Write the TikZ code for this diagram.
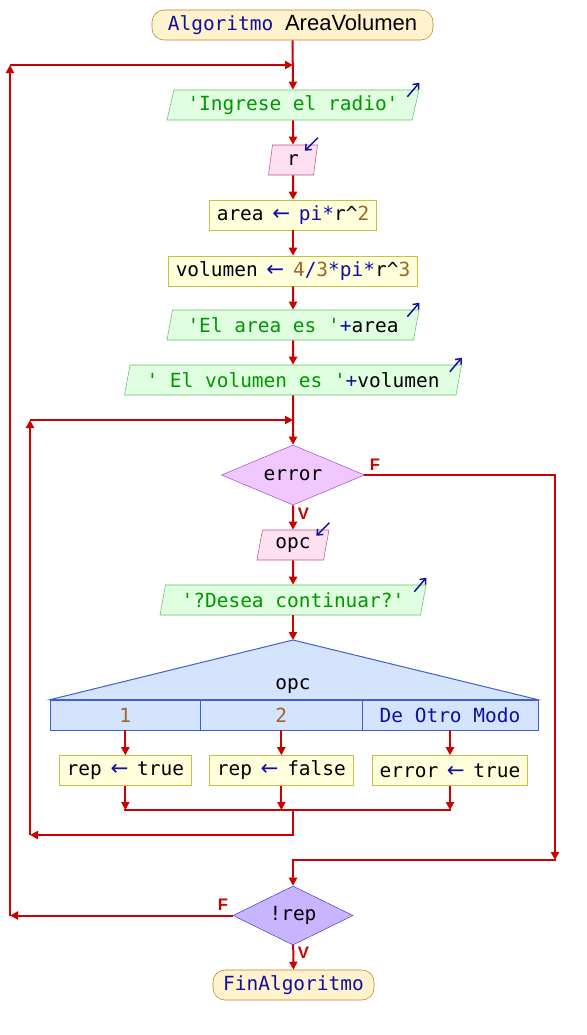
\documentclass[tikz,border=0pt]{standalone}
\usepackage{fontspec}
\usepackage{tikz}
\usetikzlibrary{arrows.meta,calc,shapes.geometric}
\newfontfamily\psmono{DejaVu Sans Mono}
\newfontfamily\pssans{Liberation Sans}
\newfontfamily\psarrowf{DejaVu Sans}
\newcommand{\pmono}{\psmono\fontsize{14.6pt}{17pt}\selectfont}
\definecolor{flwred}{RGB}{204,0,0}
\definecolor{kwblue}{RGB}{16,16,160}
\definecolor{nmbrown}{RGB}{160,100,40}
\definecolor{strgreen}{RGB}{0,150,0}
\definecolor{termbg}{RGB}{255,242,204}
\definecolor{termbd}{RGB}{192,128,32}
\definecolor{outbg}{RGB}{224,255,224}
\definecolor{outbd}{RGB}{100,190,100}
\definecolor{inbg}{RGB}{255,224,240}
\definecolor{inbd}{RGB}{192,80,144}
\definecolor{asgbg}{RGB}{255,255,220}
\definecolor{asgbd}{RGB}{200,192,64}
\definecolor{errbg}{RGB}{240,200,255}
\definecolor{errbd}{RGB}{160,80,220}
\definecolor{repbg}{RGB}{200,180,255}
\definecolor{repbd}{RGB}{80,60,220}
\definecolor{swbg}{RGB}{212,228,252}
\definecolor{swbd}{RGB}{64,96,208}
\newcommand{\kwd}[1]{\textcolor{kwblue}{#1}}
\newcommand{\numc}[1]{\textcolor{nmbrown}{#1}}
\newcommand{\strc}[1]{\textcolor{strgreen}{#1}}
\newcommand{\asgn}{\makebox[8.85pt][c]{\textcolor{kwblue}{\psarrowf\fontsize{16pt}{17pt}\selectfont ←}}}
\tikzset{
  flw/.style={-{Triangle[length=6pt,width=6pt]}, line width=1.5pt, flwred},
  ln/.style={line width=1.5pt, flwred, line cap=rect},
  term/.style={draw=termbd, fill=termbg, rounded corners=9pt, minimum height=22.5pt, inner sep=0pt, font=\pmono},
  outp/.style={trapezium, trapezium left angle=70, trapezium right angle=110, trapezium stretches body,
    draw=outbd, fill=outbg, minimum height=22.5pt, inner sep=0pt, font=\pmono},
  inp/.style={outp, draw=inbd, fill=inbg},
  asg/.style={draw=asgbd, fill=asgbg, minimum height=22.5pt, inner xsep=5.5pt, inner ysep=0pt, font=\pmono},
  dec/.style={diamond, shape aspect=2.4, draw=errbd, fill=errbg, minimum width=107.25pt, minimum height=45pt, inner sep=0pt, font=\pmono},
  cas/.style={draw=swbd, fill=swbg, minimum height=22.5pt, inner sep=0pt, font=\pmono},
  iomark/.style={-{Straight Barb[length=3.5pt,width=6pt]}, line width=1.1pt, kwblue},
  lbl/.style={font=\pssans\bfseries\fontsize{12.5pt}{13pt}\selectfont, flwred, inner sep=0pt},
}
\begin{document}
\begin{tikzpicture}[x=0.75pt,y=-0.75pt]
  \useasboundingbox (0,0) rectangle (586,1035);
  % --- main sequence ---
  \node[term, minimum width=210.75pt] (start) at (292.5,25)
    {\kwd{Algoritmo} {\pssans\fontsize{16.5pt}{18pt}\selectfont AreaVolumen}};
  \node[outp, minimum width=189pt] (ing) at (293,105) {\strc{'Ingrese el radio'}};
  \node[inp, minimum width=36.75pt] (r) at (293,160) {r};
  \node[asg] (area) at (293,215) {area \asgn{} \kwd{pi*}r\textasciicircum\numc{2}};
  \node[asg] (vol) at (293,271)
    {volumen \asgn{} \numc{4}\kwd{/}\numc{3}\kwd{*pi*}r\textasciicircum\numc{3}};
  \node[outp, minimum width=189pt] (elarea) at (293,325) {\strc{'El area es '}\kwd{+}area};
  \node[outp, minimum width=252.75pt] (elvol) at (293,380) {\strc{' El volumen es '}\kwd{+}volumen};
  \coordinate (j1) at (293,65);
  \coordinate (j2) at (293,420);
  % --- inner loop body ---
  \node[dec] (err) at (293,475) {error};
  \node[inp, minimum width=54pt] (opc) at (293,545) {opc};
  \node[outp, minimum width=199.5pt] (des) at (293,600) {\strc{'?Desea continuar?'}};
  % --- segun opc ---
  \coordinate (swtop) at (293,640);
  \node[cas, minimum width=113pt] (c1) at (125.35,715) {\numc{1}};
  \node[cas, minimum width=121pt] (c2) at (281.35,715) {\numc{2}};
  \node[cas, minimum width=132pt] (c3) at (450,715) {\kwd{De Otro Modo}};
  \filldraw[draw=swbd, fill=swbg, line width=0.75pt] (c1.north west) -- (swtop) -- (c3.north east) -- cycle;
  \node[font=\pmono] (sw) at (293,686) {opc};
  \node[asg] (b1) at (125.35,770.5) {rep \asgn{} true};
  \node[asg] (b2) at (281.35,770.5) {rep \asgn{} false};
  \node[asg] (b3) at (450,770.5) {error \asgn{} true};
  \coordinate (mg) at (293,810);
  \coordinate (lp) at (30,835);
  % --- repetir hasta ---
  \node[dec, shape aspect=2, draw=repbd, fill=repbg, minimum width=90pt, minimum height=44.25pt] (rep) at (293,915.5) {!rep};
  \node[term, minimum width=120.75pt] (fin) at (293.5,985) {\kwd{FinAlgoritmo}};
  \coordinate (lq) at (10,915.5);
  \coordinate (fr) at (555,860);
  % --- labels ---
  \node[lbl] (f1) at (375,465) {F};
  \node[lbl] (v1) at (303.5,514) {V};
  \node[lbl] (f2) at (223,905) {F};
  \node[lbl] (v2) at (303.5,953) {V};
  % --- io marks ---
  \foreach \n in {ing,elarea,elvol,des}
    \draw[iomark] ($(\n.top right corner)+(-12,7)$) -- ($(\n.top right corner)+(0,-7)$);
  \foreach \n in {r,opc}
    \draw[iomark] ($(\n.top right corner)+(0,-7)$) -- ($(\n.top right corner)+(-13,6)$);
  % --- connectors ---
  \draw[flw] (start) -- (ing);
  \draw[flw] (ing) -- (r);
  \draw[flw] (r) -- (area);
  \draw[flw] (area) -- (vol);
  \draw[flw] (vol) -- (elarea);
  \draw[flw] (elarea) -- (elvol);
  \draw[flw] (elvol) -- (err);
  \draw[flw] (err) -- (opc);
  \draw[flw] (opc) -- (des);
  \draw[flw] (des) -- (swtop);
  \draw[flw] (c1) -- (b1);
  \draw[flw] (c2) -- (b2);
  \draw[flw] (c3) -- (b3);
  \foreach \b in {b1,b2,b3}
    \draw[flw] (\b) -- (\b |- mg);
  \draw[ln] (b1 |- mg) -- (b3 |- mg);
  \draw[ln] (mg) -- (mg |- lp);
  \draw[flw] (mg |- lp) -- (lp);
  \draw[flw] (lp) -- (lp |- j2);
  \draw[flw] (lp |- j2) -- (j2);
  \draw[ln] (err) -- (err -| fr);
  \draw[flw] (err -| fr) -- (fr);
  \draw[ln] (fr) -- (rep |- fr);
  \draw[flw] (rep |- fr) -- (rep);
  \draw[flw] (rep) -- (fin);
  \draw[flw] (rep) -- (lq);
  \draw[flw] (lq) -- (lq |- j1);
  \draw[flw] (lq |- j1) -- (j1);
\end{tikzpicture}
\end{document}
